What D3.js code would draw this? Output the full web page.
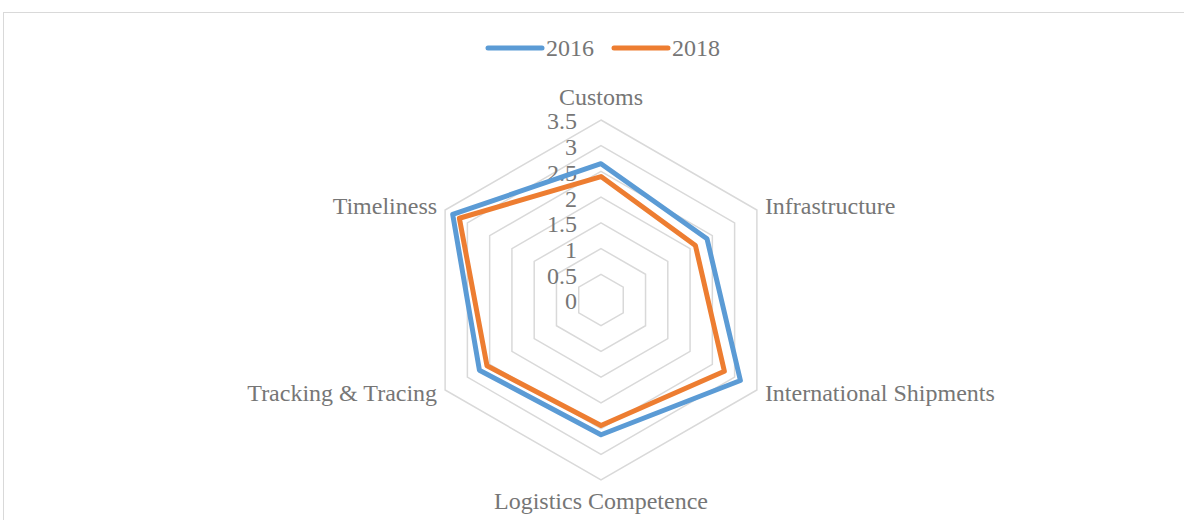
<!DOCTYPE html>
<html>
<head>
<meta charset="utf-8">
<script src="https://cdn.jsdelivr.net/npm/d3@7/dist/d3.min.js"></script>
<style>
  body { margin: 0; background: #fff; }
  svg { display: block; font-family: "Liberation Serif", "Times New Roman", serif; }
</style>
</head>
<body>
<svg id="chart" width="1184" height="520"></svg>
<script>
const axes = ['Customs', 'Infrastructure', 'International Shipments', 'Logistics Competence', 'Tracking & Tracing', 'Timeliness'];
const series = ['2016', '2018'];
const values2016 = [2.65, 2.38, 3.13, 2.62, 2.73, 3.33];
const values2018 = [2.40, 2.12, 2.77, 2.44, 2.56, 3.18];
const ticks = [0, 0.5, 1, 1.5, 2, 2.5, 3, 3.5];

const colors = ['#5B9BD5', '#ED7D31'];
const textColor = '#767676';
const fontSize = 24;
const width = 1184, height = 520;
const cx = 601, cy = 300, R = 180;

const svg = d3.select('#chart');

// frame
svg.append('rect')
    .attr('x', 3.5).attr('y', 12.5)
    .attr('width', width).attr('height', height)
    .attr('fill', 'none')
    .attr('stroke', '#d9d9d9')
    .attr('stroke-width', 1);

const r = d3.scaleLinear().domain([0, 3.5]).range([0, R]);
const angle = d3.scaleLinear().domain([0, axes.length]).range([0, 2 * Math.PI]);
const pt = (i, v) => [cx + r(v) * Math.sin(angle(i)), cy - r(v) * Math.cos(angle(i))];

const g = svg.append('g');

// grid hexagons
g.selectAll('path.grid')
    .data(ticks.filter(t => t > 0))
    .join('path')
    .attr('class', 'grid')
    .attr('d', t => d3.line()(axes.map((a, i) => pt(i, t))) + 'Z')
    .attr('fill', 'none')
    .attr('stroke', '#d9d9d9')
    .attr('stroke-width', 1.5);

// tick labels
g.selectAll('text.tick')
    .data(ticks)
    .join('text')
    .attr('class', 'tick')
    .attr('x', cx - 24)
    .attr('y', t => cy - r(t) + 1)
    .attr('dy', '0.35em')
    .attr('text-anchor', 'end')
    .attr('font-size', fontSize)
    .attr('fill', textColor)
    .text(t => t);

// series
const data = [values2016, values2018];
g.selectAll('path.series')
    .data(data)
    .join('path')
    .attr('class', 'series')
    .attr('d', vals => d3.line()(vals.map((v, i) => pt(i, v))) + 'Z')
    .attr('fill', 'none')
    .attr('stroke', (d, i) => colors[i])
    .attr('stroke-width', 5)
    .attr('stroke-linejoin', 'round');

// axis labels
const labelPos = axes.map((a, i) => {
    const [x, y] = pt(i, 3.5);
    const s = Math.sin(angle(i)), c = Math.cos(angle(i));
    let anchor = 'middle', dx = 0, dy = 0;
    if (s > 0.1) { anchor = 'start'; dx = 8; }
    else if (s < -0.1) { anchor = 'end'; dx = -8; }
    if (Math.abs(s) <= 0.1) dy = c > 0 ? -22 : 22;
    else dy = c > 0 ? -3 : 4;
    return { a, x: x + dx, y: y + dy, anchor };
});
g.selectAll('text.axis')
    .data(labelPos)
    .join('text')
    .attr('class', 'axis')
    .attr('x', d => d.x)
    .attr('y', d => d.y)
    .attr('dy', '0.3em')
    .attr('text-anchor', d => d.anchor)
    .attr('font-size', fontSize)
    .attr('fill', textColor)
    .text(d => d.a);

// legend
const legend = svg.append('g');
const legendX = [488, 614];
series.forEach((s, i) => {
    legend.append('line')
        .attr('x1', legendX[i]).attr('x2', legendX[i] + 54)
        .attr('y1', 48).attr('y2', 48)
        .attr('stroke', colors[i])
        .attr('stroke-width', 5)
        .attr('stroke-linecap', 'round');
    legend.append('text')
        .attr('x', legendX[i] + 58)
        .attr('y', 48)
        .attr('dy', '0.35em')
        .attr('font-size', fontSize)
        .attr('fill', textColor)
        .text(s);
});
</script>
</body>
</html>
